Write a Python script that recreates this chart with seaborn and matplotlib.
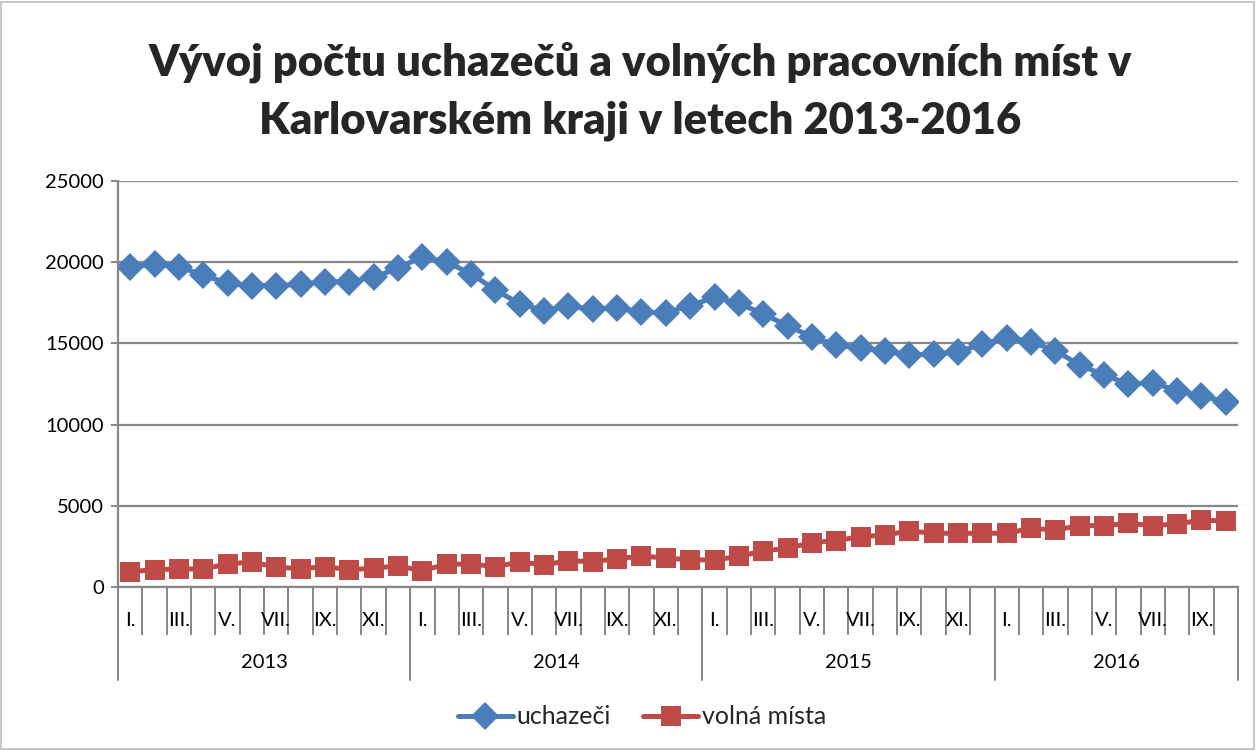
import numpy as np
import pandas as pd
import matplotlib
matplotlib.use("Agg")
import matplotlib.pyplot as plt
import matplotlib.transforms as mtransforms
from matplotlib.lines import Line2D
from matplotlib.patches import Rectangle
import seaborn as sns

# data
years = ["2013", "2014", "2015", "2016"]
months_per_year = [12, 12, 12, 10]
month_names = ["I.", "II.", "III.", "IV.", "V.", "VI.", "VII.", "VIII.", "IX.", "X.", "XI.", "XII."]

uchazeci = [19700, 19890, 19720, 19210, 18700, 18560, 18560, 18640, 18800, 18800, 19070, 19620,
            20350, 20000, 19300, 18280, 17450, 17010, 17300, 17100, 17200, 16910, 16890, 17320,
            17840, 17470, 16810, 16090, 15410, 14900, 14700, 14550, 14290, 14340, 14490, 14950,
            15350, 15100, 14550, 13670, 13050, 12500, 12580, 12090, 11760, 11410]
volna_mista = [950, 1060, 1120, 1100, 1430, 1530, 1230, 1120, 1260, 1060, 1160, 1300,
               1000, 1410, 1410, 1260, 1530, 1370, 1610, 1570, 1730, 1910, 1780, 1670,
               1670, 1880, 2220, 2390, 2730, 2860, 3100, 3200, 3450, 3310, 3310, 3310,
               3310, 3610, 3510, 3780, 3780, 3920, 3780, 3880, 4120, 4060]

month_labels = []
for n in months_per_year:
    month_labels += month_names[:n]
idx = np.arange(len(month_labels))

df = pd.DataFrame({
    "i": np.concatenate([idx, idx]),
    "value": uchazeci + volna_mista,
    "series": ["uchazeči"] * len(idx) + ["volná místa"] * len(idx),
})

blue = "#4A7EBB"
red = "#BE4B48"
grid_c = "#878787"

sns.set_theme(style="white")
plt.rcParams["font.family"] = ["Lato", "DejaVu Sans"]

fig = plt.figure(figsize=(12.57, 7.51), dpi=100)
ax = fig.add_axes([118 / 1257, 1 - 587 / 751, (1238 - 118) / 1257, 406 / 751])

sns.lineplot(data=df, x="i", y="value", hue="series", style="series",
             palette={"uchazeči": blue, "volná místa": red},
             markers={"uchazeči": "D", "volná místa": "s"}, dashes=False,
             linewidth=3.6, markersize=14, markeredgewidth=0, ax=ax, legend=True)

ax.set_xlim(-0.5, len(idx) - 0.5)
ax.set_ylim(0, 25000)
ax.set_yticks(np.arange(0, 25001, 5000))
ax.yaxis.grid(True, color=grid_c, linewidth=1.6)
ax.set_axisbelow(True)
ax.set_xlabel("")
ax.set_ylabel("")
for s in ["top", "right"]:
    ax.spines[s].set_visible(False)
for s in ["left", "bottom"]:
    ax.spines[s].set_color(grid_c)
    ax.spines[s].set_linewidth(1.6)
ax.tick_params(axis="y", which="both", left=True, length=5, width=1.4, color=grid_c,
               labelsize=14.5, pad=5, labelcolor="black")

# category axis: month ticks as separators, labels for every other month
ax.set_xticks(idx[:-1] + 0.5)
ax.set_xticklabels([])
ax.tick_params(axis="x", bottom=True, length=34.5, width=1.4, color=grid_c)

trans = mtransforms.blended_transform_factory(ax.transData, ax.transAxes)
for k, lab in enumerate(month_labels):
    if lab in ("I.", "III.", "V.", "VII.", "IX.", "XI."):
        ax.text(k, -0.082, lab, transform=trans, ha="center", va="center",
                fontsize=14.5, color="black")

start = 0
bounds = [-0.5]
for y, n in zip(years, months_per_year):
    ax.text(start + (n - 1) / 2, -0.185, y, transform=trans, ha="center", va="center",
            fontsize=14.5, color="black")
    start += n
    bounds.append(start - 0.5)
for b in bounds:
    ax.add_line(Line2D([b, b], [0, -0.229], transform=trans, color=grid_c,
                       linewidth=1.4, clip_on=False))

fig.text(640 / 1257, 1 - 62 / 751, "Vývoj počtu uchazečů a volných pracovních míst v",
         ha="center", va="center", fontsize=31.3, fontweight="heavy")
fig.text(640 / 1257, 1 - 121 / 751, "Karlovarském kraji v letech 2013-2016",
         ha="center", va="center", fontsize=31.3, fontweight="heavy")

handles, labels = ax.get_legend_handles_labels()
ax.get_legend().remove()
leg = fig.legend(handles, labels, loc="center", bbox_to_anchor=(642 / 1257, 1 - 717 / 751),
                 ncol=2, frameon=False, fontsize=18, handlelength=2.2, columnspacing=1.3,
                 handletextpad=0.15)

fig.patches.append(Rectangle((0.001, 0.002), 0.997, 0.996, transform=fig.transFigure,
                             fill=False, edgecolor="#BFBFBF", linewidth=1.2))

fig.savefig("out.png", dpi=100)
